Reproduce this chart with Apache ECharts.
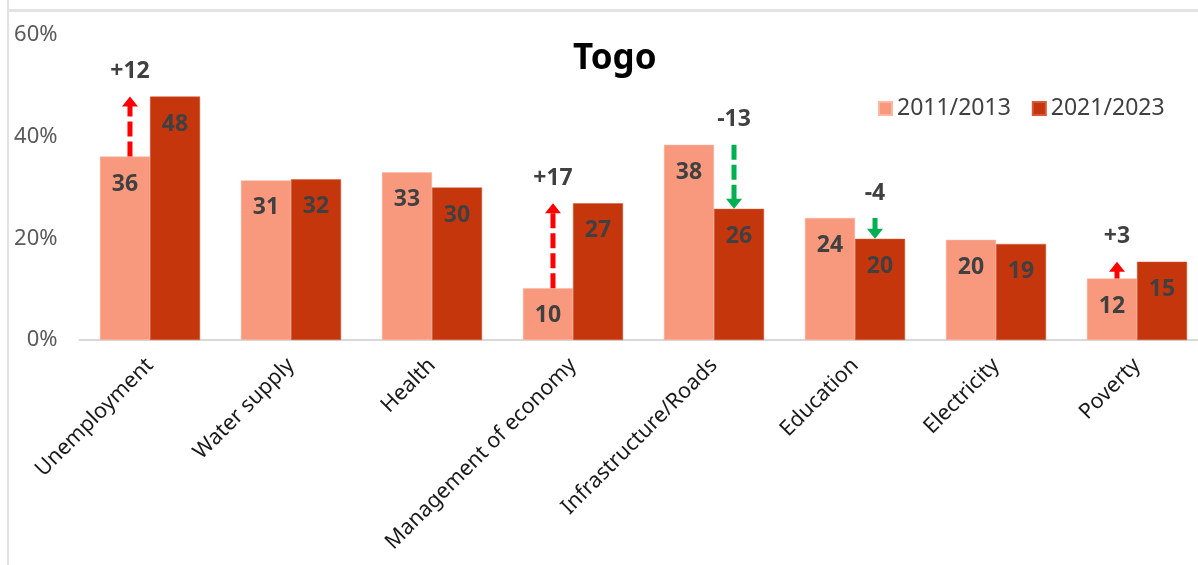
<!DOCTYPE html>
<html>
<head>
<meta charset="utf-8">
<script src="https://cdn.jsdelivr.net/npm/echarts@6/dist/echarts.min.js"></script>
<style>
html,body{margin:0;padding:0;background:#fff;}
#c{width:1198px;height:565px;}
</style>
</head>
<body>
<div id="c"></div>
<script>
// ---- data ----
const categories = ['Unemployment', 'Water supply', 'Health', 'Management of economy', 'Infrastructure/Roads', 'Education', 'Electricity', 'Poverty'];
const values2011 = [36.1, 31.4, 33.0, 10.2, 38.4, 24.0, 19.7, 12.1];
const values2021 = [47.9, 31.6, 30.0, 26.9, 25.8, 19.9, 18.9, 15.4];
const changeCategories = ['Unemployment', 'Management of economy', 'Infrastructure/Roads', 'Education', 'Poverty'];
const changeLabels = ['+12', '+17', '-13', '-4', '+3'];
const yTicks = [0, 20, 40, 60];
const seriesNames = ['2011/2013', '2021/2023'];

const FONT = '"Noto Sans", sans-serif';
const arrowData = changeCategories.map((c, i) => {
  const idx = categories.indexOf(c);
  return [idx, values2011[idx], values2021[idx], changeLabels[i]];
});

const chart = echarts.init(document.getElementById('c'), null, {renderer: 'canvas'});

const barLabel = {
  show: true,
  position: 'insideTop',
  distance: 16,
  formatter: p => Math.round(p.value),
  color: '#404040',
  fontFamily: FONT,
  fontWeight: 'bold',
  fontSize: 23
};

chart.setOption({
  animation: false,
  backgroundColor: '#fff',
  title: {
    text: 'Togo',
    left: 568,
    top: 37,
    textStyle: {fontFamily: FONT, fontWeight: 'bold', fontSize: 35, color: '#000'}
  },
  legend: {
    data: seriesNames,
    left: 873,
    top: 92,
    itemWidth: 13,
    itemHeight: 13,
    itemGap: 21,
    icon: 'rect',
    textStyle: {fontFamily: FONT, fontSize: 23, color: '#404040'}
  },
  grid: {left: 79.5, width: 1128, top: 35, bottom: 225, containLabel: false, outerBoundsMode: 'none'},
  xAxis: {
    type: 'category',
    data: categories,
    axisLine: {show: true, lineStyle: {color: '#d9d9d9', width: 2}},
    axisTick: {show: false},
    axisLabel: {
      interval: 0,
      rotate: 45,
      margin: 22,
      fontFamily: FONT,
      fontSize: 21.5,
      color: '#1a1a1a'
    }
  },
  yAxis: {
    type: 'value',
    min: yTicks[0],
    max: yTicks[yTicks.length - 1],
    interval: 20,
    splitLine: {show: false},
    axisLine: {show: false},
    axisTick: {show: false},
    axisLabel: {
      margin: 22,
      formatter: v => v + '%',
      fontFamily: FONT,
      fontSize: 22,
      color: '#595959'
    }
  },
  graphic: [
    {type: 'line', shape: {x1: 8, y1: 0, x2: 8, y2: 565}, style: {stroke: '#d9d9d9', lineWidth: 1.5}, z: 100},
    {type: 'line', shape: {x1: 8, y1: 10.5, x2: 1198, y2: 10.5}, style: {stroke: '#e3e3e3', lineWidth: 3}, z: 100}
  ],
  series: [
    {
      name: seriesNames[0],
      type: 'bar',
      data: values2011,
      barGap: '0%',
      barCategoryGap: '29%',
      itemStyle: {color: '#F8997E', borderColor: '#FAB7A3', borderWidth: 0.5},
      label: barLabel
    },
    {
      name: seriesNames[1],
      type: 'bar',
      data: values2021,
      itemStyle: {color: '#C6360D', borderColor: '#D45A36', borderWidth: 0.5},
      label: barLabel
    },
    {
      name: 'change',
      type: 'custom',
      data: arrowData,
      encode: {x: 0, y: [1, 2]},
      z: 10,
      renderItem: function (params, api) {
        const idx = api.value(0);
        const oldV = api.value(1);
        const newV = api.value(2);
        const lbl = arrowData[params.dataIndex][3];
        const band = api.size([1, 0])[0];
        const up = newV > oldV;
        const c0 = api.coord([idx, oldV]);
        const c1 = api.coord([idx, newV]);
        const x = c0[0] + (up ? -1 : 1) * band * 0.142;
        const y0 = c0[1];
        const y1 = c1[1];
        const color = up ? '#FF0000' : '#00B050';
        const headH = 10, headW = 16;
        const dir = up ? -1 : 1;
        const shaftEnd = y1 - dir * headH;
        const topY = Math.min(y0, y1);
        return {
          type: 'group',
          children: [
            {
              type: 'line',
              shape: {x1: x, y1: y0, x2: x, y2: shaftEnd + dir * 1},
              style: {stroke: color, lineWidth: 5, lineDash: [15, 5]}
            },
            {
              type: 'polygon',
              shape: {points: [[x - headW / 2, shaftEnd], [x + headW / 2, shaftEnd], [x, y1]]},
              style: {fill: color}
            },
            {
              type: 'text',
              style: {
                text: lbl,
                x: x,
                y: topY - 25,
                align: 'center',
                verticalAlign: 'middle',
                fontFamily: FONT,
                fontWeight: 'bold',
                fontSize: 23,
                fill: '#404040'
              }
            }
          ]
        };
      }
    }
  ]
});
</script>
</body>
</html>
